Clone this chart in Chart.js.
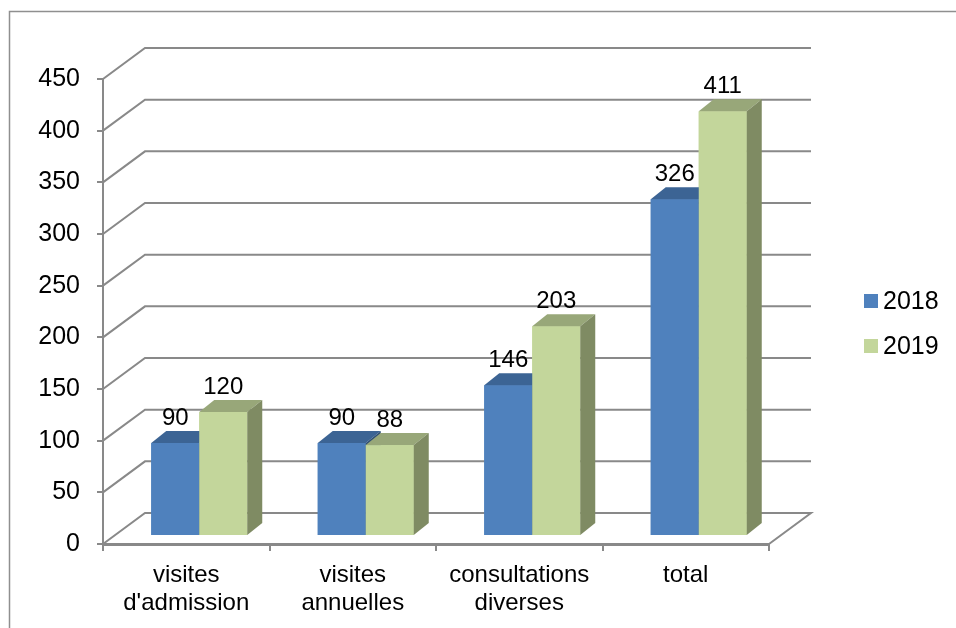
<!DOCTYPE html>
<html><head><meta charset="utf-8">
<script src="https://cdn.jsdelivr.net/npm/chart.js@4/dist/chart.umd.min.js"></script>
<style>html,body{margin:0;padding:0;background:#fff;}</style>
</head><body>
<canvas id="c" width="956" height="628" style="width:956px;height:628px;display:block"></canvas>
<script>
const categories = [["visites","d'admission"],["visites","annuelles"],["consultations","diverses"],"total"];
const seriesLabels = ["2018","2019"];
const values2018 = [90, 90, 146, 326];
const values2019 = [120, 88, 203, 411];
const yMin = 0, yMax = 450, yStep = 50;

const frontColors = ["#4F81BD", "#C3D69B"];
const topColors = ["#3C6494", "#98A779"];
const sideColors = ["#2F4F75", "#7F8B63"];
const GRID = "#898989";
const FONT = "'Liberation Sans', Arial, sans-serif";

Chart.defaults.font.family = FONT;
Chart.defaults.color = "#000";

const WALL_DX = 42, WALL_DY = -31;   // depth of back wall
const BAR_DX = 13, BAR_DY = -8;      // bars placed mid-depth
const BD_X = 15, BD_Y = 12;          // bar thickness

const framePlugin = {
  id: 'frame',
  beforeDraw(chart) {
    const ctx = chart.ctx;
    ctx.save();
    ctx.fillStyle = '#fff';
    ctx.fillRect(0, 0, chart.width, chart.height);
    ctx.strokeStyle = '#8f8f8f';
    ctx.lineWidth = 1.5;
    ctx.beginPath();
    ctx.moveTo(9.5, chart.height);
    ctx.lineTo(9.5, 11.5);
    ctx.lineTo(chart.width, 11.5);
    ctx.stroke();
    ctx.restore();
  }
};

const wallPlugin = {
  id: 'wall',
  beforeDatasetsDraw(chart) {
    const ctx = chart.ctx, y = chart.scales.y, a = chart.chartArea;
    ctx.save();
    ctx.strokeStyle = GRID;
    ctx.lineWidth = 2;
    ctx.lineJoin = 'miter';
    for (let v = yMin; v <= yMax; v += yStep) {
      const py = y.getPixelForValue(v);
      ctx.beginPath();
      ctx.moveTo(a.left, py);
      ctx.lineTo(a.left + WALL_DX, py + WALL_DY);
      ctx.lineTo(a.right + WALL_DX, py + WALL_DY);
      if (v === yMin) ctx.lineTo(a.right, py);
      ctx.stroke();
    }
    ctx.restore();
    ctx.save();
    ctx.translate(BAR_DX, BAR_DY);
  },
  afterDatasetsDraw(chart) {
    const ctx = chart.ctx;
    chart.data.datasets.forEach((ds, i) => {
      const meta = chart.getDatasetMeta(i);
      meta.data.forEach((el) => {
        const p = el.getProps(['x', 'y', 'base', 'width'], true);
        const l = p.x - p.width / 2, r = p.x + p.width / 2;
        ctx.fillStyle = frontColors[i];
        ctx.fillRect(l, p.y, r - l, p.base - p.y);
        ctx.fillStyle = topColors[i];
        ctx.beginPath();
        ctx.moveTo(l, p.y); ctx.lineTo(l + BD_X, p.y - BD_Y);
        ctx.lineTo(r + BD_X, p.y - BD_Y); ctx.lineTo(r, p.y); ctx.closePath(); ctx.fill();
        ctx.fillStyle = sideColors[i];
        ctx.beginPath();
        ctx.moveTo(r, p.y); ctx.lineTo(r + BD_X, p.y - BD_Y);
        ctx.lineTo(r + BD_X, p.base - BD_Y); ctx.lineTo(r, p.base); ctx.closePath(); ctx.fill();
      });
    });
    ctx.fillStyle = '#000';
    ctx.font = '24px ' + FONT;
    ctx.textAlign = 'center';
    ctx.textBaseline = 'alphabetic';
    chart.data.datasets.forEach((ds, i) => {
      const meta = chart.getDatasetMeta(i);
      meta.data.forEach((el, j) => {
        const p = el.getProps(['x', 'y'], true);
        ctx.fillText(String(ds.data[j]), p.x, p.y - 18);
      });
    });
    ctx.restore();
  }
};

const legendPlugin = {
  id: 'customLegend',
  afterDraw(chart) {
    const ctx = chart.ctx;
    ctx.save();
    ctx.font = '25px ' + FONT;
    ctx.textAlign = 'left';
    ctx.textBaseline = 'middle';
    chart.data.datasets.forEach((ds, i) => {
      const cy = 301 + i * 45;
      ctx.fillStyle = ds.backgroundColor;
      ctx.fillRect(864, cy - 7, 14, 14);
      ctx.fillStyle = '#000';
      ctx.fillText(ds.label, 883, cy + 1);
    });
    ctx.restore();
  }
};

new Chart(document.getElementById('c'), {
  type: 'bar',
  data: {
    labels: categories,
    datasets: [
      { label: seriesLabels[0], data: values2018, backgroundColor: frontColors[0], borderWidth: 0,
        categoryPercentage: 0.5766, barPercentage: 1 },
      { label: seriesLabels[1], data: values2019, backgroundColor: frontColors[1], borderWidth: 0,
        categoryPercentage: 0.5766, barPercentage: 1 }
    ]
  },
  options: {
    responsive: false,
    animation: false,
    devicePixelRatio: 1,
    layout: { padding: { left: 0, top: 79, right: 956 - 769, bottom: 0 } },
    plugins: { legend: { display: false }, tooltip: { enabled: false } },
    scales: {
      x: {
        offset: true,
        grid: { display: true, offset: true, drawOnChartArea: false, drawTicks: true, tickLength: 7, color: GRID, lineWidth: 2 },
        border: { display: true, color: GRID, width: 3 },
        ticks: { font: { size: 24, lineHeight: 1.15 }, color: '#000', padding: 11, maxRotation: 0, autoSkip: false },
        afterFit(s) { s.height = 628 - 544; }
      },
      y: {
        min: yMin, max: yMax,
        grid: { drawOnChartArea: false, drawTicks: true, tickLength: 6, color: GRID, lineWidth: 2 },
        border: { display: true, color: GRID, width: 2 },
        ticks: { stepSize: yStep, font: { size: 25 }, color: '#000', padding: 17 },
        afterFit(s) { s.width = 103; }
      }
    }
  },
  plugins: [framePlugin, wallPlugin, legendPlugin]
});
</script>
</body></html>
